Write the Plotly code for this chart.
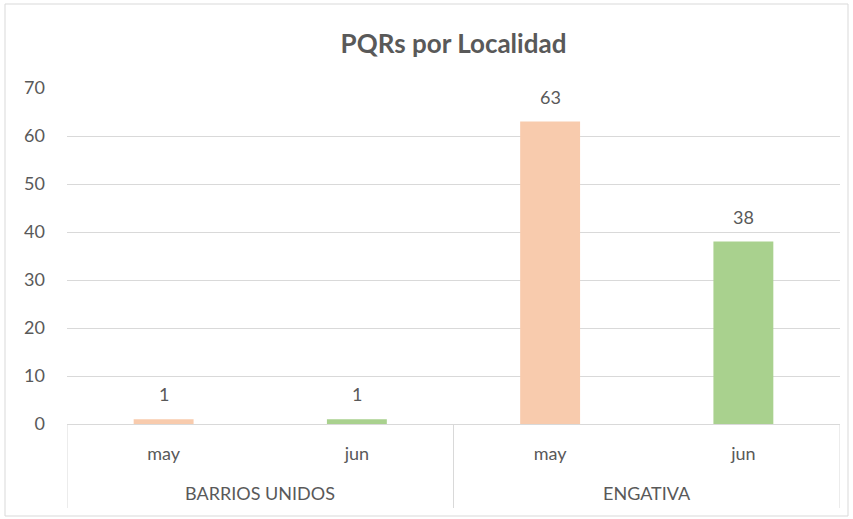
import plotly.graph_objects as go

groups = ["BARRIOS UNIDOS", "ENGATIVA"]
months = ["may", "jun", "may", "jun"]
values = [1, 1, 63, 38]
colors = ["#F8CBAD", "#A9D18E", "#F8CBAD", "#A9D18E"]
y_ticks = [0, 10, 20, 30, 40, 50, 60, 70]

FONT = "Lato, 'Open Sans', sans-serif"
GREY = "#595959"
LINE = "#D9D9D9"

xpos = list(range(len(values)))
group_centers = [0.5, 2.5]
dividers = [-0.5, 1.5, 3.5]

fig = go.Figure(go.Bar(
    x=xpos,
    y=values,
    marker=dict(color=colors, line=dict(width=0)),
    width=0.31,
    hoverinfo="skip",
))

W, H = 853, 519
ml, mr, mt, mb = 67, 13, 88, 95
pw, ph = W - ml - mr, H - mt - mb

def px2paper_x(px):
    return (px - ml) / pw

def px2paper_y(py):
    return (H - mb - py) / ph

annotations = []
for x, v in zip(xpos, values):
    annotations.append(dict(x=x, y=v, xref="x", yref="y", text=str(v),
                            showarrow=False, yanchor="bottom", yshift=12,
                            font=dict(size=18, color=GREY, family=FONT)))
for gx, g in zip(group_centers, groups):
    annotations.append(dict(x=gx, y=px2paper_y(493), xref="x", yref="paper",
                            text=g, showarrow=False, yanchor="middle",
                            font=dict(size=18, color=GREY, family=FONT)))

shapes = [dict(
    type="rect", xref="paper", yref="paper",
    x0=px2paper_x(5), x1=px2paper_x(848),
    y0=px2paper_y(516), y1=px2paper_y(4),
    line=dict(color=LINE, width=1), fillcolor="rgba(0,0,0,0)",
    layer="below",
)]
for d in dividers:
    shapes.append(dict(type="line", xref="x", yref="paper",
                       x0=d, x1=d, y0=0, y1=px2paper_y(508),
                       line=dict(color=LINE, width=1)))

fig.update_layout(
    width=W, height=H,
    margin=dict(l=ml, r=mr, t=mt, b=mb, autoexpand=False),
    paper_bgcolor="white", plot_bgcolor="white",
    showlegend=False,
    title=dict(text="<b>PQRs por Localidad</b>", x=0.5, xanchor="center",
               xref="paper",
               y=1 - 44 / H, yanchor="middle",
               font=dict(size=26, color=GREY, family=FONT)),
    font=dict(family=FONT, color=GREY, size=18),
    xaxis=dict(
        range=[-0.5, 3.5], tickvals=xpos, ticktext=months,
        showline=True, linecolor=LINE, linewidth=1,
        ticks="", showgrid=False, zeroline=False, automargin=False,
        tickfont=dict(size=18, color=GREY, family=FONT),
        ticklabelstandoff=13,
    ),
    yaxis=dict(
        range=[0, 70], tickvals=y_ticks,
        showgrid=True, gridcolor=LINE, gridwidth=1,
        zeroline=False, showline=False, ticks="", automargin=False,
        tickfont=dict(size=18, color=GREY, family=FONT),
        ticklabelstandoff=21,
    ),
    annotations=annotations,
    shapes=shapes,
)

fig.write_html("out.html", config={"displayModeBar": False},
               post_script="document.body.style.margin='0';")
